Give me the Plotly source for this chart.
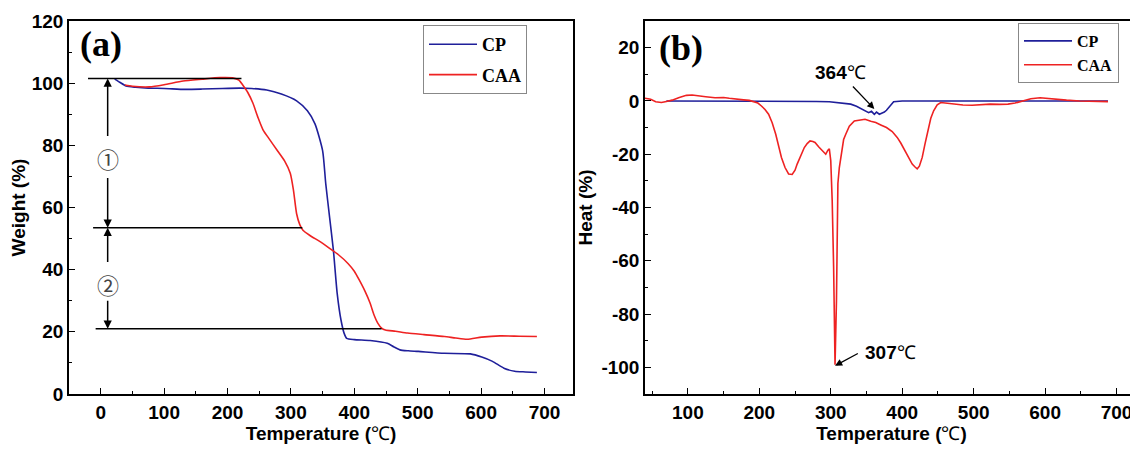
import plotly.graph_objects as go

# ---------------- Panel (a): TGA ----------------
tga_cp_T = [22, 30, 40, 55, 75, 100, 133, 160, 192, 220, 238, 262, 285, 309, 326, 338, 350, 355, 361, 367, 373, 379, 384, 388, 400, 425, 452, 462, 472, 485, 501, 542, 583, 601, 618, 636, 653, 670, 688]
tga_cp_W = [101.3, 100.3, 99.1, 98.7, 98.4, 98.3, 98.0, 98.1, 98.3, 98.4, 98.3, 97.8, 96.5, 94.3, 91.1, 86.9, 78.3, 67.6, 56.9, 46.3, 32.4, 23.8, 19.5, 17.9, 17.5, 17.2, 16.3, 15.2, 14.2, 13.9, 13.7, 13.1, 12.9, 11.9, 10.5, 8.3, 7.3, 7.1, 6.9]

tga_caa_T = [38, 50, 77, 100, 130, 160, 188, 208, 218, 224, 232, 240, 248, 256, 266, 278, 290, 299, 304, 309, 314, 319, 330, 346, 360, 375, 390, 400, 408, 417, 425, 431, 437, 443, 449, 465, 484, 510, 542, 560, 578, 601, 630, 660, 688]
tga_caa_W = [99.4, 99.0, 98.8, 99.5, 100.7, 101.3, 101.8, 101.7, 101.0, 99.4, 97.0, 93.6, 89.0, 85.0, 82.0, 78.5, 75.0, 71.0, 65.6, 58.0, 54.5, 52.7, 51.0, 49.0, 47.0, 44.8, 42.0, 39.5, 36.6, 33.0, 29.2, 25.5, 22.8, 21.2, 20.6, 20.2, 19.6, 19.1, 18.5, 18.0, 17.6, 18.3, 18.7, 18.6, 18.5]

stage_levels = [101.5, 53.5, 21.0]
stage_line_start = [-20, -12, -8]
stage_line_end = [222, 318, 443]
stage_arrow_T = 11
stage_labels = ["①", "②"]
stage_label_W = [76.0, 35.5]
stage_gap = [(82.5, 70.0), (42.0, 30.5)]

temp_tickvals = [0, 100, 200, 300, 400, 500, 600, 700]
temp_ticktext = ["0", "100", "200", "300", "400", "500", "600", "700"]
weight_tickvals = [0, 20, 40, 60, 80, 100, 120]
weight_ticktext = ["0", "20", "40", "60", "80", "100", "120"]

# ---------------- Panel (b): DTA ----------------
dta_cp_T = [70, 100, 150, 200, 250, 280, 298, 315, 328, 336, 343, 348, 353, 357, 361, 364, 368, 372, 375, 378, 383, 388, 400, 450, 500, 550, 600, 650, 688]
dta_cp_H = [0, 0, 0, 0, -0.1, -0.2, -0.3, -0.7, -1.2, -2.0, -3.1, -3.6, -4.4, -3.9, -5.0, -4.2, -5.0, -4.5, -4.2, -3.5, -1.8, -0.3, 0, 0, 0, 0, 0, 0, 0]

dta_caa_T = [40, 48, 55, 63, 70, 78, 88, 98, 106, 113, 125, 138, 150, 158, 170, 178, 186, 193, 198, 203, 208, 213, 218, 223, 227, 231, 236, 241, 246, 250, 253, 258, 263, 267, 271, 275, 278, 283, 288, 291, 293, 296, 298, 300, 302, 304, 306, 308, 310, 312, 315, 318, 321, 326, 333, 340, 348, 356, 363, 370, 378, 386, 393, 398, 404, 409, 414, 418, 421, 424, 428, 432, 436, 440, 444, 449, 454, 463, 473, 485, 498, 510, 523, 536, 548, 558, 568, 580, 593, 603, 613, 630, 648, 668, 688]
dta_caa_H = [1.0, 0.6, -0.3, -0.6, -0.2, 0.3, 1.3, 2.1, 2.2, 1.9, 1.6, 1.2, 1.3, 1.0, 0.8, 0.4, 0.2, -0.3, -0.8, -1.9, -3.2, -5.0, -8.2, -12.5, -16.5, -21.2, -25.0, -27.4, -27.6, -26.0, -23.7, -20.5, -17.5, -16.0, -15.0, -15.2, -15.6, -17.2, -18.7, -19.5, -20.0, -18.5, -18.0, -22.4, -37.4, -62.0, -99.0, -75.0, -31.0, -25.0, -18.7, -14.5, -12.5, -9.5, -7.5, -7.2, -6.9, -7.6, -8.1, -9.0, -10.0, -11.5, -13.7, -15.8, -18.7, -21.5, -23.7, -24.8, -25.5, -24.5, -21.2, -16.0, -11.2, -6.5, -3.7, -1.5, -0.6, -0.9, -1.2, -1.5, -1.6, -1.4, -1.2, -1.3, -1.2, -0.8, 0.0, 0.8, 1.2, 0.9, 0.6, 0.3, 0.0, -0.1, -0.25]

heat_tickvals = [-100, -80, -60, -40, -20, 0, 20]
heat_ticktext = ["-100", "-80", "-60", "-40", "-20", "0", "20"]

peak_cp = (361, -3.0)
peak_cp_tail = (329, 6.0)
peak_cp_text = (314, 10.5)
peak_cp_label = "<b>364</b>℃"
peak_caa = (306, -99.4)
peak_caa_tail = (340, -94.5)
peak_caa_text = (383, -94.4)
peak_caa_label = "<b>307</b>℃"

BLUE = "#1f1f9a"
RED = "#ee2222"
SANS = "Liberation Sans"
SERIF = "Liberation Serif"

# page has an 8px body margin: figure is 1130x441, target pixel coords are page coords
def PX(x):
    return (x - 69) / 1069.0

def PY(y):
    return (394 - y) / 373.0

def bold(labels):
    return ["<b>%s</b>" % t for t in labels]

fig = go.Figure()
fig.add_trace(go.Scatter(x=tga_cp_T, y=tga_cp_W, mode="lines", name="CP",
                         line=dict(color=BLUE, width=1.6, shape="spline", smoothing=0.6),
                         xaxis="x", yaxis="y", legend="legend", legendgroup="a1"))
fig.add_trace(go.Scatter(x=tga_caa_T, y=tga_caa_W, mode="lines", name="CAA",
                         line=dict(color=RED, width=1.6, shape="spline", smoothing=0.6),
                         xaxis="x", yaxis="y", legend="legend", legendgroup="a2"))
fig.add_trace(go.Scatter(x=dta_cp_T, y=dta_cp_H, mode="lines", name="CP",
                         line=dict(color=BLUE, width=1.6),
                         xaxis="x2", yaxis="y2", legend="legend2", legendgroup="b1"))
fig.add_trace(go.Scatter(x=dta_caa_T, y=dta_caa_H, mode="lines", name="CAA",
                         line=dict(color=RED, width=1.6),
                         xaxis="x2", yaxis="y2", legend="legend2", legendgroup="b2"))

shapes = []
for lvl, x0, x1 in zip(stage_levels, stage_line_start, stage_line_end):
    shapes.append(dict(type="line", xref="x", yref="y", x0=x0, x1=x1, y0=lvl, y1=lvl,
                       line=dict(color="black", width=1.5)))

annotations = []
for i in range(2):
    top, bot = stage_levels[i], stage_levels[i + 1]
    g_top, g_bot = stage_gap[i]
    annotations.append(dict(x=stage_arrow_T, y=top, ax=stage_arrow_T, ay=g_top, xref="x", yref="y",
                            axref="x", ayref="y", text="", showarrow=True, arrowhead=2,
                            arrowsize=1.1, arrowwidth=1.5, arrowcolor="black"))
    annotations.append(dict(x=stage_arrow_T, y=bot, ax=stage_arrow_T, ay=g_bot, xref="x", yref="y",
                            axref="x", ayref="y", text="", showarrow=True, arrowhead=2,
                            arrowsize=1.1, arrowwidth=1.5, arrowcolor="black"))
    annotations.append(dict(x=stage_arrow_T, y=stage_label_W[i], xref="x", yref="y", text=stage_labels[i],
                            showarrow=False, font=dict(family="Noto Sans CJK SC", size=22, color="#444")))

annotations.append(dict(x=peak_cp[0], y=peak_cp[1], ax=peak_cp_tail[0], ay=peak_cp_tail[1],
                        xref="x2", yref="y2", axref="x2", ayref="y2", text="", showarrow=True,
                        arrowhead=2, arrowsize=1.1, arrowwidth=1.3, arrowcolor="black"))
annotations.append(dict(x=peak_cp_text[0], y=peak_cp_text[1], xref="x2", yref="y2", text=peak_cp_label,
                        showarrow=False, font=dict(family=SANS, size=19, color="black")))
annotations.append(dict(x=peak_caa[0], y=peak_caa[1], ax=peak_caa_tail[0], ay=peak_caa_tail[1],
                        xref="x2", yref="y2", axref="x2", ayref="y2", text="", showarrow=True,
                        arrowhead=2, arrowsize=1.1, arrowwidth=1.3, arrowcolor="black"))
annotations.append(dict(x=peak_caa_text[0], y=peak_caa_text[1], xref="x2", yref="y2", text=peak_caa_label,
                        showarrow=False, font=dict(family=SANS, size=19, color="black")))

annotations.append(dict(x=PX(101), y=PY(44), xref="paper", yref="paper", text="<b>(a)</b>",
                        xanchor="center", yanchor="middle",
                        showarrow=False, font=dict(family=SERIF, size=36, color="black")))
annotations.append(dict(x=PX(681), y=PY(48), xref="paper", yref="paper", text="<b>(b)</b>",
                        xanchor="center", yanchor="middle",
                        showarrow=False, font=dict(family=SERIF, size=36, color="black")))

tickfont = dict(family=SANS, size=19, color="black")
titlefont = dict(family=SANS, size=19, color="black", weight=700)

def xax(domain, rng, anchor):
    return dict(domain=domain, range=rng, anchor=anchor, tickmode="array", tickvals=temp_tickvals,
                ticktext=bold(temp_ticktext), ticks="inside", ticklen=6,
                tickwidth=1.3, tickcolor="black", showline=True, linecolor="black", linewidth=1.5,
                mirror=True, showgrid=False, zeroline=False, tickfont=tickfont,
                minor=dict(dtick=50, tick0=0, ticks="inside", ticklen=3, tickwidth=1.2, tickcolor="black", showgrid=False),
                title=dict(text="Temperature (<span style='font-weight:normal'>℃</span>)", font=titlefont, standoff=2))

def yax(domain, rng, anchor, tv, tt, mdtick, title, mirror):
    return dict(domain=domain, range=rng, anchor=anchor, tickmode="array", tickvals=tv, ticktext=bold(tt),
                ticks="inside", ticklen=6,
                tickwidth=1.3, tickcolor="black", showline=True, linecolor="black", linewidth=1.5,
                mirror=mirror, showgrid=False, zeroline=False, tickfont=tickfont,
                minor=dict(dtick=mdtick, tick0=0, ticks="inside", ticklen=3, tickwidth=1.2, tickcolor="black", showgrid=False),
                title=dict(text=title, font=titlefont, standoff=4))

fig.update_layout(
    width=1130, height=441,
    margin=dict(l=61, r=0, t=13, b=55),
    plot_bgcolor="white", paper_bgcolor="white",
    xaxis=xax([0, 0.4715], [-50, 745], "y"),
    yaxis=yax([0, 1], [0, 120], "x", weight_tickvals, weight_ticktext, 10, "Weight (%)", True),
    xaxis2=xax([0.5388, 1], [40, 730], "y2"),
    yaxis2=yax([0, 1], [-110, 30], "x2", heat_tickvals, heat_ticktext, 10, "Heat (%)", False),
    shapes=shapes,
    annotations=annotations,
    legend=dict(x=PX(423), y=PY(25), xanchor="left", yanchor="top", bgcolor="white",
                bordercolor="#888", borderwidth=1, tracegroupgap=4, itemwidth=48,
                font=dict(family=SERIF, size=18, color="black", weight=700)),
    legend2=dict(x=PX(1018), y=PY(23), xanchor="left", yanchor="top", bgcolor="white",
                 bordercolor="#888", borderwidth=1, tracegroupgap=0, itemwidth=48,
                 font=dict(family=SERIF, size=16, color="black", weight=700)),
    showlegend=True,
)

fig.write_html("out.html")
